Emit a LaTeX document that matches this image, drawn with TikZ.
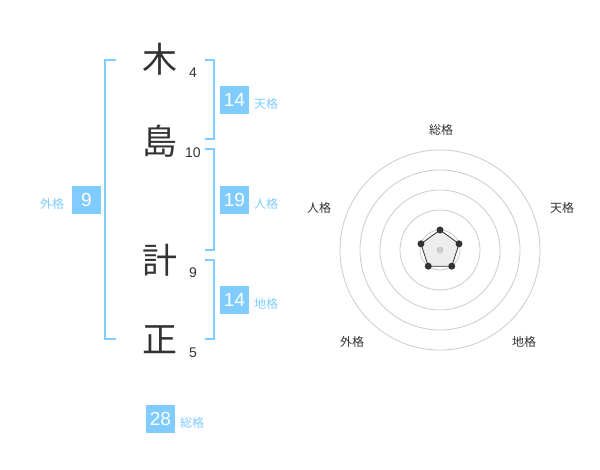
\documentclass[tikz,border=0pt]{standalone}
\usepackage{fontspec}
\setmainfont{Liberation Sans}
\newfontfamily\cjk{Noto Sans CJK JP}
\definecolor{sky}{HTML}{80CCFF}
\definecolor{ink}{HTML}{333333}
\definecolor{ring}{HTML}{CCCCCC}
\tikzset{
  kanji/.style={inner sep=0pt,text=ink,font=\cjk\fontsize{35}{35}\selectfont},
  strokes/.style={inner sep=0pt,text=ink,font=\fontsize{14}{14}\selectfont},
  score/.style={fill=sky,text=white,inner sep=0pt,minimum width=29pt,minimum height=28pt,font=\fontsize{19}{19}\selectfont},
  kaku/.style={inner sep=0pt,text=sky,font=\cjk\fontsize{12}{12}\selectfont},
  axis/.style={inner sep=0pt,text=ink,font=\cjk\fontsize{12}{12}\selectfont},
  bracket/.style={draw=sky,line width=2pt},
  dot/.style={circle,fill=ink,inner sep=0pt,minimum size=7pt},
}
\begin{document}
\begin{tikzpicture}[x=1pt,y=-1pt]
  \useasboundingbox [fill=white] (0,0) rectangle (600,470);
  % name
  \node at (160,59) [kanji] (k1) {木};
  \node at (160,141) [kanji] (k2) {島};
  \node at (160,260) [kanji] (k3) {計};
  \node at (160,340) [kanji] (k4) {正};
  \node at (193,73) [strokes] (n1) {4};
  \node at (193,153) [strokes] (n2) {10};
  \node at (193,273) [strokes] (n3) {9};
  \node at (193,353) [strokes] (n4) {5};
  % brackets
  \draw [bracket] (116,60) -- (105,60) -- (105,339) -- (116,339);
  \draw [bracket] (205,60) -- (214,60) -- (214,139) -- (205,139);
  \draw [bracket] (205,149) -- (214,149) -- (214,250) -- (205,250);
  \draw [bracket] (205,260) -- (214,260) -- (214,339) -- (205,339);
  % scores
  \node at (234.5,100) [score] (ten) {14};
  \node at (266,104) [kaku] (tenL) {天格};
  \node at (234.5,200) [score] (jin) {19};
  \node at (266,204) [kaku] (jinL) {人格};
  \node at (234.5,300) [score] (chi) {14};
  \node at (266,304) [kaku] (chiL) {地格};
  \node at (86.5,200) [score] (gai) {9};
  \node at (52,204) [kaku] (gaiL) {外格};
  \node at (160.5,419) [score] (sou) {28};
  \node at (192,423) [kaku] (souL) {総格};
  % radar
  \coordinate (C) at (440,250);
  \foreach \r in {20,40,60,80,100}
    \draw [ring,line width=0.8pt] (C) circle [radius=\r];
  \path (C) ++(-90:20) coordinate (v1)
        (C) ++(-18:20) coordinate (v2)
        (C) ++(54:20) coordinate (v3)
        (C) ++(126:20) coordinate (v4)
        (C) ++(198:20) coordinate (v5);
  \draw [fill=black!7,draw=ink,line width=0.8pt] (v1) -- (v2) -- (v3) -- (v4) -- (v5) -- cycle;
  \fill [ring] (C) circle [radius=3.5];
  \foreach \i in {1,...,5}
    \node at (v\i) [dot] (d\i) {};
  \node at (441,130) [axis] (aSou) {総格};
  \node at (562,208) [axis] (aTen) {天格};
  \node at (319,208) [axis] (aJin) {人格};
  \node at (352,342) [axis] (aGai) {外格};
  \node at (524,342) [axis] (aChi) {地格};
\end{tikzpicture}
\end{document}
